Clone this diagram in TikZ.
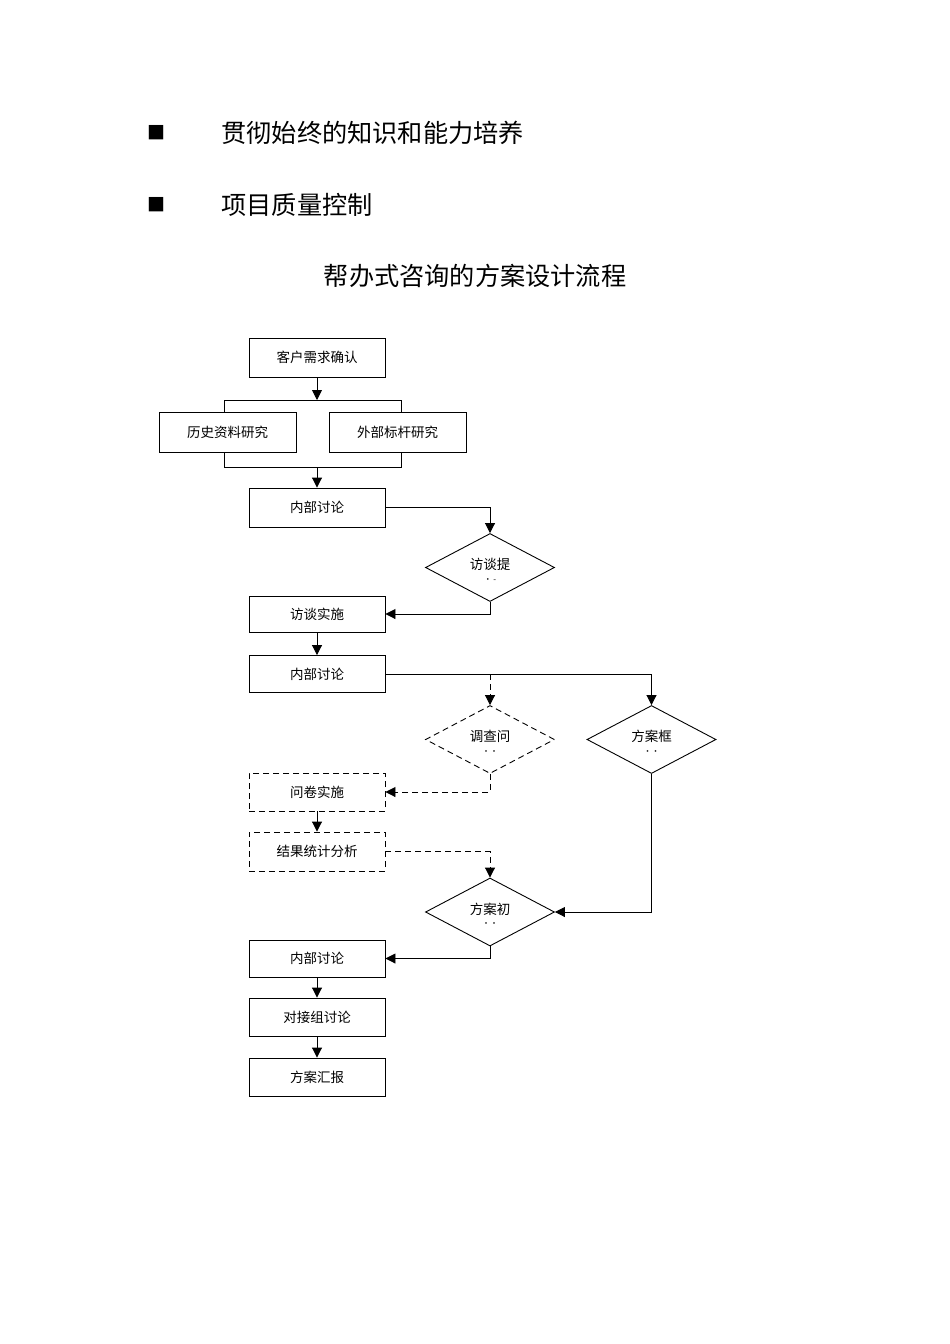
\documentclass[tikz,border=0pt]{standalone}
\usepackage{fontspec}
\setmainfont{Noto Sans CJK SC}
\usetikzlibrary{arrows.meta,shapes.geometric}
\begin{document}
\begin{tikzpicture}[x=1pt,y=-1pt,
  line width=0.9pt,
  bul/.style={font=\fontsize{18}{18}\selectfont, inner sep=0},
  head/.style={font=\fontsize{25.2}{25.2}\selectfont, inner sep=0},
  box/.style={draw, minimum width=136pt, minimum height=38pt, inner sep=0, font=\fontsize{13.5}{13.5}\selectfont},
  dsh/.style={dash pattern=on 6pt off 4pt},
  dbox/.style={box, dsh},
  dia/.style={draw, diamond, minimum width=129pt, minimum height=68pt, inner sep=0},
  dtext/.style={font=\fontsize{13.5}{13.5}\selectfont, inner sep=0},
  dsmall/.style={font=\fontsize{8}{8}\selectfont, inner sep=0},
  arr/.style={-{Triangle[length=10pt,width=10pt]}}
]
\useasboundingbox (0,0) rectangle (950,1344);
\fill[white] (0,0) rectangle (950,1344);

\node[bul] (bul1) at (156,133) {■};
\node[head, anchor=west] (t1) at (221,133) {贯彻始终的知识和能力培养};
\node[bul] (bul2) at (156,205) {■};
\node[head, anchor=west] (t2) at (221,205) {项目质量控制};
\node[head] (title) at (475,276) {帮办式咨询的方案设计流程};

\node[box, minimum height=39pt] (b1) at (317,357.5) {客户需求确认};
\node[box, minimum width=137pt, minimum height=40pt] (hist) at (227.5,432) {历史资料研究};
\node[box, minimum width=137pt, minimum height=40pt] (ext) at (397.5,432) {外部标杆研究};
\node[box, minimum height=39pt] (d1) at (317,507.5) {内部讨论};
\node[dia] (dia1) at (490,567.5) {};
\node[dtext] (dia1t) at ([yshift=3pt]dia1.center) {访谈提};
\node[dsmall] (dia1s) at ([yshift=-13pt]dia1.center) {·\,-};
\node[box, minimum height=36pt] (b2) at (317,614) {访谈实施};
\node[box, minimum height=37pt] (b3) at (317,674) {内部讨论};
\node[dia, dsh] (dia2) at (490,739.5) {};
\node[dtext] (dia2t) at ([yshift=3pt]dia2.center) {调查问};
\node[dsmall] (dia2s) at ([yshift=-13pt]dia2.center) {··};
\node[dia] (dia3) at (651.5,739.5) {};
\node[dtext] (dia3t) at ([yshift=3pt]dia3.center) {方案框};
\node[dsmall] (dia3s) at ([yshift=-13pt]dia3.center) {··};
\node[dbox] (b4) at (317,792) {问卷实施};
\node[dbox, minimum height=39pt] (b5) at (317,851.5) {结果统计分析};
\node[dia] (dia4) at (490,912) {};
\node[dtext] (dia4t) at ([yshift=3pt]dia4.center) {方案初};
\node[dsmall] (dia4s) at ([yshift=-13pt]dia4.center) {··};
\node[box, minimum height=37pt] (b6) at (317,958.5) {内部讨论};
\node[box] (b7) at (317,1017) {对接组讨论};
\node[box] (b8) at (317,1077) {方案汇报};

% split / join
\coordinate (j) at (317,400);
\coordinate (jl) at (224,400);
\coordinate (jr) at (401,400);
\coordinate (k) at (317,467);
\coordinate (kl) at (224,467);
\coordinate (kr) at (401,467);
\draw[arr] (b1.south) -- (j);
\draw (jl|-hist.north) -- (jl) -- (jr) -- (jr|-ext.north);
\draw (kl|-hist.south) -- (kl) -- (kr) -- (kr|-ext.south);
\draw[arr] (k) -- (d1.north);

\draw[arr] (d1.east) -| (dia1.north);
\draw[arr] (dia1.south) |- (b2.east);
\draw[arr] (b2.south) -- (b3.north);
\draw[arr] (b3.east) -| (dia3.north);
\coordinate (br) at (b3.east -| dia2.north);
\draw[arr, dsh] (br) -- (dia2.north);
\draw[arr, dsh] (dia2.south) |- (b4.east);
\draw[arr] (b4.south) -- (b5.north);
\draw[arr, dsh] (b5.east) -| (dia4.north);
\draw[arr] (dia3.south) |- (dia4.east);
\draw[arr] (dia4.south) |- (b6.east);
\draw[arr] (b6.south) -- (b7.north);
\draw[arr] (b7.south) -- (b8.north);
\end{tikzpicture}
\end{document}
